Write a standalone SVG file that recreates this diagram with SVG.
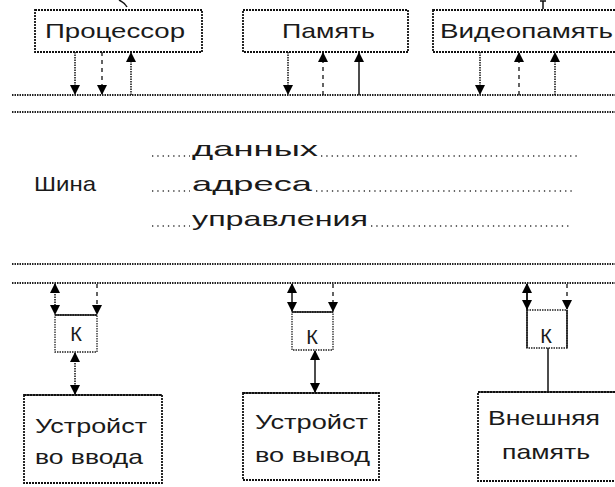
<svg xmlns="http://www.w3.org/2000/svg" width="615" height="487" viewBox="0 0 615 487">
<style>
  .box { fill: #fff; stroke: #111; stroke-width: 1.8; stroke-dasharray: 2 1; }
  .kbox { fill: #fff; stroke: #222; stroke-width: 1.3; stroke-dasharray: 1.5 1; }
  .lbl { font-family: "Liberation Sans", "DejaVu Sans", sans-serif; font-size: 21px; fill: #1a1a1a; }
  .klbl { font-family: "Liberation Sans", "DejaVu Sans", sans-serif; font-size: 20px; fill: #1a1a1a; }
  .dot { stroke: #111; stroke-width: 1.5; stroke-dasharray: 1.5 1; fill: none; }
  .dash { stroke: #111; stroke-width: 1.3; stroke-dasharray: 4 4; fill: none; }
  .solid { stroke: #111; stroke-width: 1.5; fill: none; }
  .bus { stroke: #222; stroke-width: 2.2; stroke-dasharray: 1.5 1; fill: none; }
  .lead { stroke: #333; stroke-width: 1.3; stroke-dasharray: 1.3 4; fill: none; }
</style>
<defs>
  <marker id="ah" viewBox="0 0 10 10" refX="9" refY="5" markerWidth="10" markerHeight="10" markerUnits="userSpaceOnUse" orient="auto-start-reverse">
    <path d="M0,0 L10,5 L0,10 z" fill="#000"/>
  </marker>
</defs>

<!-- partial marks at top edge -->
<path d="M119,0 Q125,3 127,7" class="solid"/>
<path d="M540,1 L546,1 M543,1 L543,9" class="solid"/>

<!-- Nodes -->
<g id="cpu">
  <rect class="box" x="35" y="10" width="167" height="42"/>
  <text class="lbl" x="45" y="38" textLength="140" lengthAdjust="spacingAndGlyphs">Процессор</text>
</g>
<g id="mem">
  <rect class="box" x="243" y="10" width="165" height="42"/>
  <text class="lbl" x="282" y="38" textLength="93" lengthAdjust="spacingAndGlyphs">Память</text>
</g>
<g id="vmem">
  <rect class="box" x="433" y="10" width="190" height="42"/>
  <text class="lbl" x="440" y="38" textLength="173" lengthAdjust="spacingAndGlyphs">Видеопамять</text>
</g>

<g id="bus">
  <line class="bus" x1="12" y1="95" x2="615" y2="95"/>
  <line class="bus" x1="12" y1="112" x2="615" y2="112"/>
  <line class="bus" x1="12" y1="264" x2="615" y2="264"/>
  <line class="bus" x1="12" y1="283" x2="615" y2="283"/>
  <text class="lbl" x="34" y="191" textLength="62" lengthAdjust="spacingAndGlyphs">Шина</text>
  <line class="lead" x1="152" y1="156" x2="190" y2="156"/>
  <text class="lbl" x="192" y="156" textLength="126" lengthAdjust="spacingAndGlyphs">данных</text>
  <line class="lead" x1="321" y1="156" x2="578" y2="156"/>
  <line class="lead" x1="152" y1="191" x2="190" y2="191"/>
  <text class="lbl" x="192" y="191" textLength="120" lengthAdjust="spacingAndGlyphs">адреса</text>
  <line class="lead" x1="316" y1="191" x2="575" y2="191"/>
  <line class="lead" x1="152" y1="226" x2="190" y2="226"/>
  <text class="lbl" x="192" y="226" textLength="176" lengthAdjust="spacingAndGlyphs">управления</text>
  <line class="lead" x1="371" y1="226" x2="570" y2="226"/>
</g>

<g id="k1">
  <rect class="kbox" x="55" y="315" width="42" height="37"/>
  <line class="solid" x1="55" y1="315" x2="97" y2="315"/>
  <text class="klbl" x="76" y="341" text-anchor="middle">К</text>
</g>
<g id="k2">
  <rect class="kbox" x="292" y="312" width="41" height="38"/>
  <line class="solid" x1="292" y1="312" x2="333" y2="312"/>
  <text class="klbl" x="312" y="344" text-anchor="middle">К</text>
</g>
<g id="k3">
  <rect class="kbox" x="527" y="310" width="40" height="38"/>
  <text class="klbl" x="546" y="343" text-anchor="middle">К</text>
</g>

<g id="dev-in">
  <rect class="box" x="24" y="395" width="138" height="88"/>
  <line class="solid" x1="24" y1="395" x2="162" y2="395" stroke-width="2.5"/>
  <text class="lbl" x="35" y="433" textLength="112" lengthAdjust="spacingAndGlyphs">Устройст</text>
  <text class="lbl" x="35" y="464" textLength="108" lengthAdjust="spacingAndGlyphs">во ввода</text>
</g>
<g id="dev-out">
  <rect class="box" x="243" y="393" width="136" height="87"/>
  <line class="solid" x1="243" y1="393" x2="379" y2="393" stroke-width="2.5"/>
  <text class="lbl" x="255" y="429" textLength="113" lengthAdjust="spacingAndGlyphs">Устройст</text>
  <text class="lbl" x="255" y="462" textLength="115" lengthAdjust="spacingAndGlyphs">во вывод</text>
</g>
<g id="ext-mem">
  <rect class="box" x="478" y="392" width="145" height="89"/>
  <line class="solid" x1="478" y1="392" x2="615" y2="392" stroke-width="2.5"/>
  <text class="lbl" x="488" y="425" textLength="112" lengthAdjust="spacingAndGlyphs">Внешняя</text>
  <text class="lbl" x="502" y="459" textLength="88" lengthAdjust="spacingAndGlyphs">память</text>
</g>

<!-- Connectors -->
<g id="connectors">
  <line class="dot" x1="75" y1="52" x2="75" y2="94" marker-end="url(#ah)"/>
  <line class="dash" x1="102" y1="52" x2="102" y2="94" marker-end="url(#ah)"/>
  <line class="dot" x1="131" y1="95" x2="131" y2="53" marker-end="url(#ah)"/>

  <line class="dot" x1="288" y1="52" x2="288" y2="94" marker-end="url(#ah)"/>
  <line class="dash" x1="323" y1="95" x2="323" y2="53" marker-end="url(#ah)"/>
  <line class="solid" x1="359" y1="95" x2="359" y2="53" marker-end="url(#ah)"/>

  <line class="dot" x1="480" y1="52" x2="480" y2="94" marker-end="url(#ah)"/>
  <line class="dash" x1="519" y1="95" x2="519" y2="53" marker-end="url(#ah)"/>
  <line class="dot" x1="555" y1="95" x2="555" y2="53" marker-end="url(#ah)"/>

  <line class="dot" x1="55" y1="284" x2="55" y2="314" marker-start="url(#ah)" marker-end="url(#ah)"/>
  <line class="dash" x1="97" y1="284" x2="97" y2="314" marker-end="url(#ah)"/>
  <line class="dot" x1="75" y1="353" x2="75" y2="394" stroke-width="2" marker-start="url(#ah)" marker-end="url(#ah)"/>

  <line class="solid" x1="292" y1="284" x2="292" y2="311" marker-start="url(#ah)" marker-end="url(#ah)"/>
  <line class="dash" x1="333" y1="284" x2="333" y2="311" marker-end="url(#ah)"/>
  <line class="solid" x1="315" y1="351" x2="315" y2="392" marker-start="url(#ah)" marker-end="url(#ah)"/>

  <line class="solid" x1="527" y1="284" x2="527" y2="348" />
  <line class="solid" x1="527" y1="284" x2="527" y2="309" marker-start="url(#ah)" marker-end="url(#ah)"/>
  <line class="solid" x1="567" y1="310" x2="567" y2="348"/>
  <line class="dash" x1="567" y1="284" x2="567" y2="309" marker-end="url(#ah)"/>
  <line class="solid" x1="548" y1="348" x2="548" y2="392"/>
</g>
</svg>
